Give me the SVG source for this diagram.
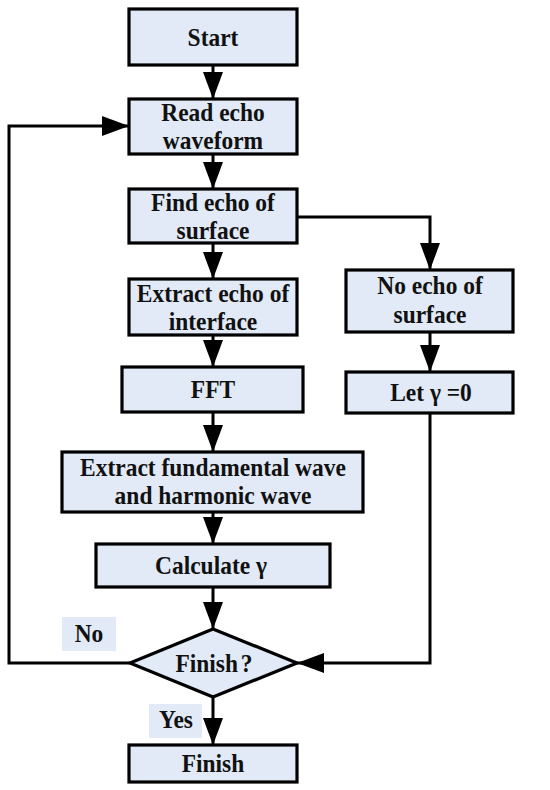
<svg xmlns="http://www.w3.org/2000/svg" width="550" height="790" viewBox="0 0 550 790">
<defs>
<style>
.box{fill:#e1eaf6;stroke:#000;stroke-width:3.2}
.lbl{fill:#e1eaf6;stroke:none}
.c{fill:none;stroke:#000;stroke-width:3}
</style>
<marker id="ah" markerUnits="userSpaceOnUse" markerWidth="28" markerHeight="20" refX="27" refY="10" orient="auto">
<path d="M0,0 L27,10 L0,20 Z" fill="#000"/>
</marker>
</defs>
<rect width="550" height="790" fill="#fff"/>
<g id="connectors">
<line class="c" x1="213" y1="65" x2="213" y2="99" marker-end="url(#ah)"/>
<line class="c" x1="213" y1="154" x2="213" y2="189" marker-end="url(#ah)"/>
<line class="c" x1="213" y1="243" x2="213" y2="279" marker-end="url(#ah)"/>
<line class="c" x1="213" y1="335" x2="213" y2="367" marker-end="url(#ah)"/>
<line class="c" x1="213" y1="412" x2="213" y2="452" marker-end="url(#ah)"/>
<line class="c" x1="213" y1="512" x2="213" y2="544" marker-end="url(#ah)"/>
<line class="c" x1="213" y1="587" x2="213" y2="629" marker-end="url(#ah)"/>
<line class="c" x1="213" y1="697" x2="213" y2="745" marker-end="url(#ah)"/>
<path class="c" d="M297,217 H430 V270" marker-end="url(#ah)"/>
<line class="c" x1="430" y1="332" x2="430" y2="372" marker-end="url(#ah)"/>
<path class="c" d="M430,413 V663 H297" marker-end="url(#ah)"/>
<path class="c" d="M130,663 H9 V126 H129" marker-end="url(#ah)"/>
</g>
<g font-family="Liberation Serif" font-weight="bold" font-size="25.5" fill="#111" text-anchor="middle">
<g id="start"><rect class="box" x="129" y="9" width="168" height="56"/><text transform="translate(213,46) scale(0.92,1)">Start</text></g>
<g id="read"><rect class="box" x="129" y="99" width="168" height="55"/><text transform="translate(213,121) scale(0.92,1)">Read echo</text><text transform="translate(213,149) scale(0.92,1)">waveform</text></g>
<g id="find"><rect class="box" x="129" y="189" width="168" height="54"/><text transform="translate(213,211) scale(0.92,1)">Find echo of</text><text transform="translate(213,239) scale(0.92,1)">surface</text></g>
<g id="extract"><rect class="box" x="129" y="279" width="168" height="56"/><text transform="translate(213,302) scale(0.92,1)">Extract echo of</text><text transform="translate(213,330) scale(0.92,1)">interface</text></g>
<g id="fft"><rect class="box" x="122" y="367" width="181" height="45"/><text transform="translate(213,398) scale(0.92,1)">FFT</text></g>
<g id="noecho"><rect class="box" x="346" y="270" width="167" height="62"/><text transform="translate(430,294) scale(0.92,1)">No echo of</text><text transform="translate(430,323) scale(0.92,1)">surface</text></g>
<g id="let"><rect class="box" x="346" y="372" width="167" height="41"/><text transform="translate(431,401) scale(0.92,1)">Let γ =0</text></g>
<g id="extractfund"><rect class="box" x="62" y="452" width="301" height="60"/><text transform="translate(213,476) scale(0.92,1)">Extract fundamental wave</text><text transform="translate(213,504) scale(0.92,1)">and harmonic wave</text></g>
<g id="calc"><rect class="box" x="96" y="544" width="234" height="43"/><text transform="translate(211,574) scale(0.92,1)">Calculate γ</text></g>
<g id="decision"><polygon class="box" points="213,629 297,663 213,697 130,663"/><text transform="translate(214,672) scale(0.92,1)">Finish<tspan dx="3">?</tspan></text></g>
<g id="finish"><rect class="box" x="129" y="745" width="168" height="37"/><text transform="translate(213,772) scale(0.92,1)">Finish</text></g>
<g id="labels">
<rect class="lbl" x="62" y="617" width="54" height="34"/><text transform="translate(89,642) scale(0.92,1)">No</text>
<rect class="lbl" x="149" y="704" width="53" height="34"/><text transform="translate(176,728) scale(0.92,1)">Yes</text>
</g>
</g>
</svg>
